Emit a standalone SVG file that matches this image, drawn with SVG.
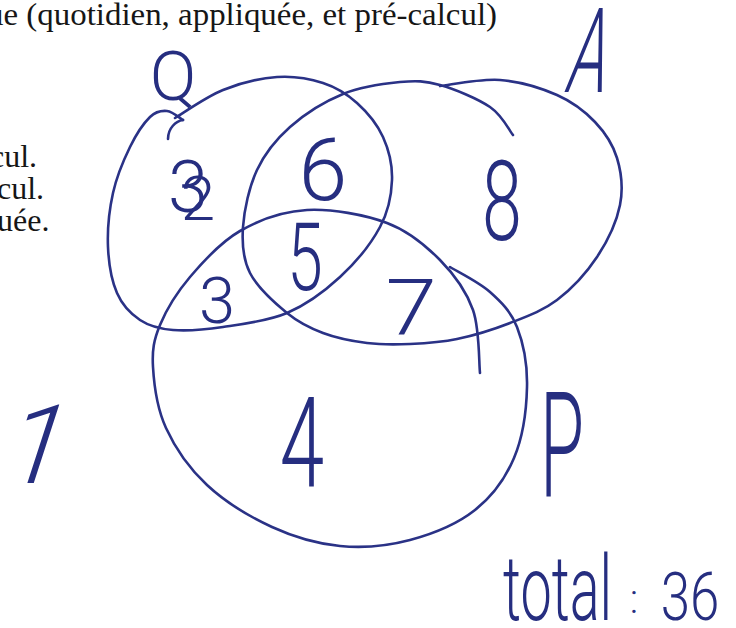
<svg xmlns="http://www.w3.org/2000/svg" width="736" height="628" viewBox="0 0 736 628">
<style>
.ink{fill:none;stroke:#2a3286;stroke-width:2.6;stroke-linecap:round;stroke-linejoin:round}
.hw{font-family:Roboto,Inter,"Liberation Sans",sans-serif;font-weight:300;fill:#262e80;text-anchor:middle}
.pr{font-family:"Liberation Serif","Times New Roman",serif;font-size:32px;fill:#161616}
</style>
<rect width="736" height="628" fill="#ffffff"/>
<g id="printed-text">
<text class="pr" x="-13" y="25" textLength="510" lengthAdjust="spacingAndGlyphs">ue (quotidien, appliquée, et pré-calcul)</text>
<text class="pr" x="-10" y="167">cul.</text>
<text class="pr" x="-3" y="199">cul.</text>
<text class="pr" x="-3" y="231">uée.</text>
</g>
<g id="set-Q">
<path class="ink" d="M175,118 C183,113.3 206,96.8 223,90 C240,83.2 260.3,78.2 277,77 C293.7,75.8 309.7,78.7 323,83 C336.3,87.3 347,94 357,103 C367,112 377.2,124.2 383,137 C388.8,149.8 392.5,165 392,180 C391.5,195 388.7,210.8 380,227 C371.3,243.2 355.5,262.7 340,277 C324.5,291.3 306.5,304.7 287,313 C267.5,321.3 242,324.2 223,327 C204,329.8 186.8,331.2 173,330 C159.2,328.8 149.3,326.2 140,320 C130.7,313.8 122.3,305.2 117,293 C111.7,280.8 108.7,263.7 108,247 C107.3,230.3 109.3,209.7 113,193 C116.7,176.3 123.8,159.7 130,147 C136.2,134.3 143.8,123 150,117 C156.2,111 161.5,110.5 167,111 C172.5,111.5 180.3,118.5 183,120"/>
<path class="ink" d="M183,120 C176,121 168,128 168,139"/>
<text class="hw" x="173" y="100" font-size="69">Q</text>
<circle cx="182" cy="100" r="1.4" fill="#262e80"/>
</g>
<g id="set-A">
<path class="ink" d="M513,135 C509.2,130.3 502.2,115.3 490,107 C477.8,98.7 455,89.2 440,85 C425,80.8 416.2,80.5 400,82 C383.8,83.5 361.3,86.5 343,94 C324.7,101.5 304.3,114.3 290,127 C275.7,139.7 264.8,153.3 257,170 C249.2,186.7 244.2,209.8 243,227 C241.8,244.2 242.7,258.7 250,273 C257.3,287.3 274.8,303 287,313 C299.2,323 309.7,328 323,333 C336.3,338 352.5,341.2 367,343 C381.5,344.8 395,344.7 410,344 C425,343.3 440.3,342.5 457,339 C473.7,335.5 493.3,329.5 510,323 C526.7,316.5 542.5,311 557,300 C571.5,289 586.5,272.8 597,257 C607.5,241.2 616.7,221.5 620,205 C623.3,188.5 621.2,171.8 617,158 C612.8,144.2 605,132.5 595,122 C585,111.5 572.8,102 557,95 C541.2,88 519.5,81.5 500,80 C480.5,78.5 450,85 440,86"/>
<g transform="translate(583,92) skewX(-12) scale(0.53,1)"><text class="hw" x="0" y="0" font-size="118">A</text></g>
</g>
<g id="set-P">
<path class="ink" d="M450,267 C456.7,271.2 478.8,282 490,292 C501.2,302 510.8,311.2 517,327 C523.2,342.8 527.5,365.2 527,387 C526.5,408.8 522.7,437.5 514,458 C505.3,478.5 492.3,496.3 475,510 C457.7,523.7 432.5,534 410,540 C387.5,546 363,548.2 340,546 C317,543.8 294.2,537.2 272,527 C249.8,516.8 224.7,501.5 207,485 C189.3,468.5 175,447.7 166,428 C157,408.3 154,384.2 153,367 C152,349.8 153.8,340 160,325 C166.2,310 176.7,292.7 190,277 C203.3,261.3 220.5,242.2 240,231 C259.5,219.8 282.5,211.3 307,210 C331.5,208.7 364.8,214.7 387,223 C409.2,231.3 425.7,245.5 440,260 C454.3,274.5 466.3,291.2 473,310 C479.7,328.8 478.8,362.5 480,373"/>
<g transform="translate(562,497) scale(0.49,1)"><text class="hw" x="0" y="0" font-size="146">P</text></g>
</g>
<g id="region-counts">
<g transform="translate(188,212)"><text class="hw" x="0" y="0" font-size="72">3</text></g>
<g transform="translate(198,220)"><text class="hw" x="0" y="0" font-size="62">2</text></g>
<text class="hw" x="323" y="200" font-size="88">6</text>
<g transform="translate(502,240) scale(0.64,1)"><text class="hw" x="0" y="0" font-size="112">8</text></g>
<g transform="translate(305,290) scale(0.68,1)"><text class="hw" x="0" y="0" font-size="94">5</text></g>
<text class="hw" x="217" y="323" font-size="65">3</text>
<g transform="translate(411,335) scale(1.2,1)"><text class="hw" x="0" y="0" font-size="77">7</text></g>
<g transform="translate(302,487) scale(0.63,1)"><text class="hw" x="0" y="0" font-size="127">4</text></g>
<g transform="translate(27,483) skewX(-18)"><text class="hw" x="0" y="0" font-size="110">1</text></g>
</g>
<g id="total">
<g transform="translate(503,620) scale(0.62,1)"><text class="hw" x="0" y="0" font-size="90" text-anchor="start" style="text-anchor:start">total</text></g>
<text class="hw" x="634" y="613" font-size="40">:</text>
<g transform="translate(690,620) scale(0.8,1)"><text class="hw" x="0" y="0" font-size="66">36</text></g>
</g>
</svg>
